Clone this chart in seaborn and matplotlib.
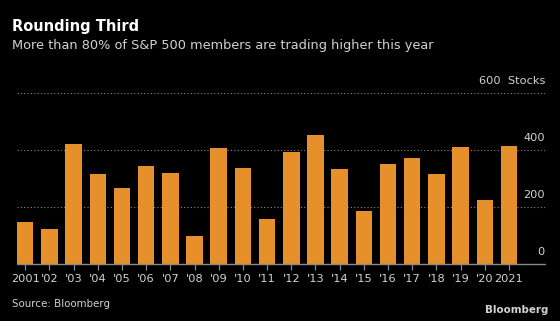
import matplotlib
matplotlib.use("Agg")
import matplotlib.pyplot as plt
import seaborn as sns
import pandas as pd

# Number of S&P 500 members trading higher, per year
years = ["2001", "'02", "'03", "'04", "'05", "'06", "'07", "'08", "'09", "'10", "'11",
         "'12", "'13", "'14", "'15", "'16", "'17", "'18", "'19", "'20", "2021"]
stocks_up = [146, 123, 421, 317, 267, 343, 318, 98, 406, 337, 159,
             392, 451, 333, 186, 350, 371, 316, 409, 226, 413]
y_ticks = [0, 200, 400, 600]
y_tick_labels = ["0", "200", "400", "600  Stocks"]

BG = "#000000"
BAR = "#E5902A"
TXT = "#D2D2D2"
GRID = "#8A8A8A"

sns.set_theme(style="dark")
plt.rcParams["font.family"] = ["DejaVu Sans"]

fig = plt.figure(figsize=(5.6, 3.21), dpi=100, facecolor=BG)
ax = fig.add_axes([17 / 560, 1 - 264 / 321, (545 - 17) / 560, (264 - 93) / 321])
ax.set_facecolor(BG)

df = pd.DataFrame({"year": years, "stocks": stocks_up})
sns.barplot(data=df, x="year", y="stocks", color=BAR, saturation=1,
            width=0.68, linewidth=0, edgecolor="none", ax=ax, zorder=3)

ax.set_xlim(-0.34, 21.49)
ax.set_ylim(0, 600)

# dotted gridlines and value labels sitting above them at the right edge
for v, lab in zip(y_ticks, y_tick_labels):
    if v > 0:
        ax.axhline(v, color=GRID, lw=0.8, ls=(0, (1, 2)), zorder=1)
    ax.text(1.0, v + 25, lab, transform=ax.get_yaxis_transform(),
            ha="right", va="bottom", color=TXT, fontsize=8.2, clip_on=False)
ax.axhline(0, color=GRID, lw=1.0, zorder=4, clip_on=False)

ax.set_yticks([])
ax.set_xlabel("")
ax.set_ylabel("")
ax.tick_params(axis="x", colors=GRID, length=4, width=0.9, pad=3,
               labelcolor=TXT, labelsize=8.2, bottom=True)
for s in ax.spines.values():
    s.set_visible(False)
ax.grid(False)

fig.text(12 / 560, 1 - 27 / 321, "Rounding Third", color="white",
         fontsize=10.5, fontweight="bold", ha="left", va="center")
fig.text(12 / 560, 1 - 45 / 321,
         "More than 80% of S&P 500 members are trading higher this year",
         color=TXT, fontsize=9.3, ha="left", va="center")
fig.text(12 / 560, 1 - 304 / 321, "Source: Bloomberg", color=TXT,
         fontsize=7.4, ha="left", va="center")
fig.text(548 / 560, 1 - 310 / 321, "Bloomberg", color=TXT,
         fontsize=7.4, fontweight="bold", ha="right", va="center")

fig.savefig("out.png", dpi=100, facecolor=BG)
